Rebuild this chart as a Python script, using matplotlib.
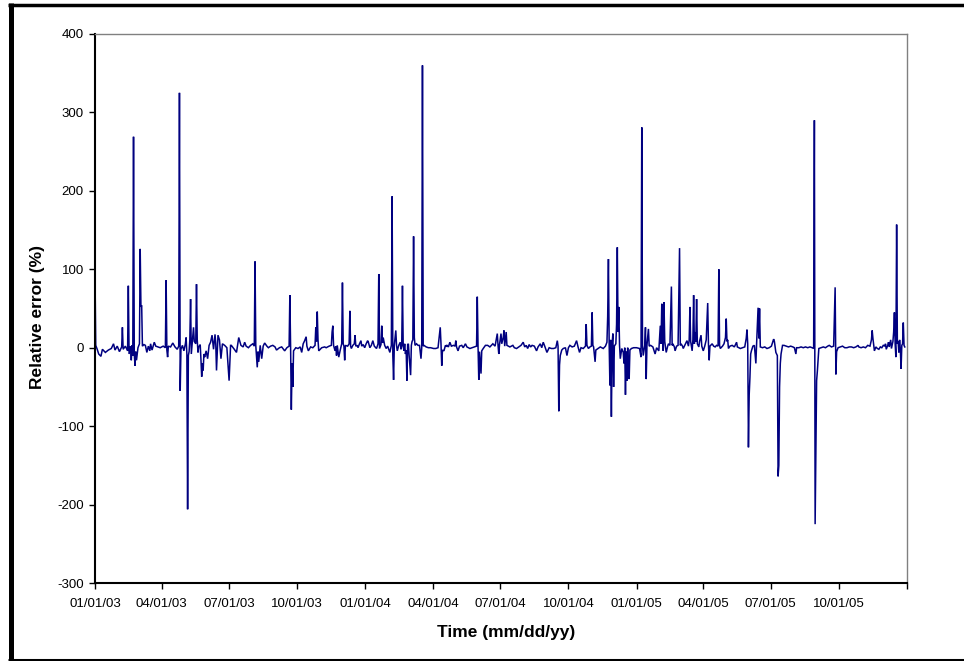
import matplotlib
matplotlib.use('Agg')
import matplotlib.pyplot as plt
import numpy as np
import pandas as pd
from matplotlib.lines import Line2D

plt.rcParams['font.family'] = ['Liberation Sans', 'DejaVu Sans']

# (day offset from 01/01/03, relative error %)
pts_2003 = [(0, 94), (1, 3), (3, -2), (5, -8), (8, -11), (10, -2), (14, -6), (18, -3), (22, -1), (25, 5),
            (27, -3), (30, 2), (33, -5), (36, 1), (37, 26), (38, -2), (41, 2), (44, -4), (45, 79), (46, -8),
            (48, 2), (49, -16), (50, 3), (51, -10), (52, 269), (53, -8), (54, -23), (55, -5), (56, -16), (58, 0),
            (60, 5), (61, 126), (62, 52), (63, 54), (64, 2), (66, 4), (68, 3), (70, -6), (72, 2), (74, -4),
            (75, 5), (77, -3), (79, 4), (80, 7), (82, 2), (85, 1), (88, 0), (92, 2), (95, 0), (96, 86),
            (97, -3), (98, -12), (99, 2), (102, 1), (105, 6), (108, 1), (111, -2), (113, 2), (114, 325), (115, -55),
            (116, -2), (118, 3), (120, -4), (122, 5), (123, 13), (124, -8), (125, -206), (126, -10), (127, -5), (128, 10),
            (129, 62), (130, -8), (131, 3), (133, 26), (134, 8), (136, 5), (137, 81), (138, 10), (139, -6), (140, 1),
            (142, 4), (143, -15), (144, -37), (145, -20), (146, -29), (147, -8), (148, -12), (150, -4), (152, -14), (154, 3),
            (156, 7), (158, 16), (160, -2), (162, 17), (163, 5), (164, -29), (166, 16), (168, 10), (170, -14), (172, 5),
            (175, 3), (178, 0), (181, -42), (183, 3), (184, 3), (188, -2), (191, -6), (194, 13), (197, 3), (200, 1),
            (202, 7), (204, 2), (207, 0), (210, 3), (213, 5), (215, 2), (216, 110), (217, 3), (219, -25), (220, -5),
            (221, -18), (223, 3), (225, -14), (227, 2), (229, 6), (232, 2), (234, 0), (237, 2), (240, 3), (243, 1),
            (245, -3), (249, 0), (252, 1), (256, -4), (259, 0), (262, 2), (263, 67), (264, 2), (265, -79), (266, -20),
            (267, -50), (268, -4), (271, 0), (274, -1), (277, 1), (279, -6), (281, 5), (283, 9), (285, 14), (286, 2),
            (288, -4), (291, 1), (294, 0), (297, 3), (298, 26), (299, 8), (300, 46), (301, 10), (302, -4), (306, 0),
            (310, 1), (312, 0), (316, 2), (319, 3), (320, 20), (321, 28), (322, 3), (324, -4), (325, 2), (326, -10),
            (327, 3), (329, -12), (331, -3), (333, 5), (334, 83), (335, 5), (336, 2), (337, -16), (338, 3), (341, 2),
            (343, 5), (344, 47), (345, 2), (346, -1), (348, 3), (350, 5), (351, 16), (352, 2), (354, 3), (355, 0),
            (357, 5), (359, 9), (360, 2), (362, 4), (364, 0)]

pts_2004 = [(366, 5), (368, 9), (369, 7), (371, 0), (373, 3), (375, 9), (377, 2), (380, -1), (382, 5), (383, 94),
            (384, -1), (386, 4), (387, 28), (388, 6), (389, 13), (391, 3), (393, -1), (395, 2), (398, -6), (400, 3),
            (401, 193), (402, -10), (403, -41), (404, 3), (406, 22), (407, 3), (408, -4), (410, 3), (412, 7), (413, -2),
            (414, 3), (415, 79), (416, 2), (417, -4), (418, 5), (419, -8), (420, -3), (421, -42), (422, 4), (423, 5),
            (424, -10), (426, -35), (427, 3), (428, 8), (429, 10), (430, 142), (431, 13), (432, 3), (434, 5), (436, 3),
            (438, 3), (440, -14), (441, 0), (442, 360), (443, 2), (444, 3), (447, 1), (450, 0), (453, 0), (457, -1),
            (460, -1), (463, 0), (466, 26), (467, 5), (468, -23), (469, -3), (471, -4), (473, 3), (474, 2), (475, 3),
            (477, 1), (479, 7), (481, 2), (484, 3), (486, 2), (487, 9), (488, 1), (490, -4), (492, 2), (495, 3),
            (497, 0), (500, 5), (502, 1), (506, -1), (509, 0), (512, 1), (515, 2), (516, 65), (517, 2), (518, -41),
            (519, -5), (521, -33), (522, -4), (524, -1), (527, 3), (530, 3), (533, 1), (537, 5), (540, 2), (543, 18),
            (544, 3), (545, -8), (546, 4), (548, 18), (549, 5), (551, 13), (552, 22), (553, 2), (555, 20), (556, 3),
            (558, 2), (560, 1), (564, 3), (566, 0), (569, -1), (572, 1), (575, 3), (578, 7), (580, 1), (582, 3),
            (584, -1), (586, 4), (588, 1), (590, 3), (593, 2), (596, -4), (598, 1), (601, 5), (603, 0), (605, 7),
            (607, 2), (610, -6), (613, 0), (616, -1), (619, -1), (622, 0), (624, 9), (625, 2), (626, -81), (627, -22),
            (628, -10), (630, -3), (632, -1), (635, 0), (637, -10), (639, 0), (641, 3), (644, 1), (647, 2), (650, 9),
            (652, 1), (654, -6), (656, 0), (659, -1), (662, 2), (663, 30), (664, 3), (666, -1), (668, 1), (670, 2),
            (671, 45), (672, 3), (673, 1), (675, -18), (676, -3), (679, -1), (682, 1), (686, -1), (689, 2), (691, 7),
            (692, 40), (693, 113), (694, 5), (695, -48), (696, 10), (697, -88), (698, 5), (699, 18), (700, -50), (701, 2),
            (703, 5), (704, 30), (705, 128), (706, 20), (707, 52), (708, 3), (709, -14), (711, -1), (713, -6), (714, -20),
            (715, 0), (716, -60), (717, -5), (718, -42), (719, 0), (720, -30), (721, -40), (722, -3), (724, -1), (727, 0)]

pts_2005 = [(731, 0), (735, -1), (737, -12), (738, 281), (739, 2), (740, -10), (742, 3), (743, 26), (744, -40), (745, 3),
            (747, 24), (748, 2), (750, 3), (753, 1), (756, -8), (758, 0), (761, -4), (763, 28), (764, 5), (765, 56),
            (766, 10), (767, -4), (768, 58), (769, 8), (771, -6), (773, 2), (774, 5), (776, 3), (778, 78), (779, 3),
            (780, 5), (782, 1), (783, -4), (785, 2), (787, 3), (789, 127), (790, 3), (791, 5), (793, 2), (794, -1),
            (796, 3), (799, 9), (801, 2), (802, 10), (803, 52), (804, 8), (806, -4), (807, 10), (808, 67), (809, 5),
            (810, 20), (811, 8), (812, 62), (813, 5), (815, 1), (816, 8), (818, 16), (819, 2), (821, -4), (823, 2),
            (825, 10), (827, 57), (828, 5), (829, -16), (830, 2), (833, 5), (835, 2), (837, 1), (839, 3), (841, 2),
            (842, 100), (843, 3), (844, -1), (847, 2), (849, 5), (851, 13), (852, 37), (853, 8), (854, 10), (855, -1),
            (857, 2), (860, 3), (863, 1), (866, 7), (867, 1), (871, -1), (874, 0), (877, 1), (879, 12), (880, 23),
            (881, 5), (882, -127), (883, -60), (884, -38), (885, -8), (886, -4), (888, 2), (890, 3), (892, -20), (893, 5),
            (895, 51), (896, 12), (897, 50), (898, 1), (901, 0), (904, 1), (907, -1), (910, 0), (913, 2), (916, 11),
            (917, 8), (919, -6), (921, -10), (922, -164), (923, -150), (924, -50), (925, -20), (926, -8), (928, 3), (930, 3),
            (933, 2), (936, 1), (939, 2), (942, 1), (944, 0), (946, -8), (947, 0), (950, 0), (953, 1), (956, 0),
            (959, 1), (962, 0), (965, 1), (968, 0), (970, -1), (971, 290), (972, -225), (974, -42), (975, -30), (977, -1),
            (980, 0), (983, 1), (986, 0), (989, 2), (991, 3), (994, 1), (997, 2), (999, 77), (1000, -34), (1001, -5),
            (1003, 0), (1006, 1), (1009, 2), (1012, 0), (1015, 0), (1018, 1), (1021, 1), (1024, 0), (1027, 1), (1030, 3),
            (1031, 1), (1034, 0), (1037, 1), (1040, 0), (1043, 3), (1046, 2), (1048, 10), (1049, 22), (1050, 12), (1052, -4),
            (1054, 1), (1056, -1), (1058, -2), (1060, 1), (1062, 0), (1064, 3), (1066, 2), (1067, 5), (1068, -2), (1070, 3),
            (1071, 7), (1072, 1), (1074, 10), (1075, -1), (1077, 8), (1078, 20), (1079, 45), (1080, 5), (1081, -12), (1082, 157),
            (1083, 5), (1084, 8), (1085, -6), (1086, 10), (1087, -2), (1088, -27), (1089, 3), (1090, 5), (1091, 32), (1092, 3),
            (1093, 1)]

x_tick_labels = ['01/01/03', '04/01/03', '07/01/03', '10/01/03', '01/01/04', '04/01/04', '07/01/04',
                 '10/01/04', '01/01/05', '04/01/05', '07/01/05', '10/01/05', '']
y_ticks = [-300, -200, -100, 0, 100, 200, 300, 400]

start = pd.Timestamp('2003-01-01')
end = pd.Timestamp('2006-01-01')

pts = pts_2003 + pts_2004 + pts_2005
days = np.array([p[0] for p in pts])
vals = np.array([p[1] for p in pts], dtype=float)
dates = start + pd.to_timedelta(days, unit='D')

W, H = 964, 661
fig = plt.figure(figsize=(W / 100, H / 100), dpi=100)
ax = fig.add_axes([95 / W, 1 - 583 / H, (907 - 95) / W, (583 - 34) / H])

ax.plot(dates, vals, color='#000080', lw=1.1, solid_joinstyle='miter')

ax.set_xlim(start, end)
ax.set_ylim(-300, 400)
tick_dates = pd.date_range(start, end, freq='QS')
ax.set_xticks(tick_dates)
ax.set_xticklabels(x_tick_labels)
ax.set_yticks(y_ticks)
ax.set_yticklabels([str(t) for t in y_ticks])

ax.tick_params(axis='both', direction='out', length=4, width=1, labelsize=9.5, colors='black')
ax.tick_params(axis='x', pad=7)
ax.tick_params(axis='y', pad=4)

for s in ['left', 'bottom']:
    ax.spines[s].set_color('black')
    ax.spines[s].set_linewidth(1.5)
for s in ['top', 'right']:
    ax.spines[s].set_color('#808080')
    ax.spines[s].set_linewidth(1.0)

fig.text(38 / W, 1 - 317 / H, 'Relative error (%)', rotation=90, ha='center', va='center',
         fontsize=12.5, fontweight='bold')
fig.text(506 / W, 1 - 633 / H, 'Time (mm/dd/yy)', ha='center', va='center',
         fontsize=12.5, fontweight='bold')

# figure frame
fig.add_artist(Line2D([8 / W, 1], [1 - 4.5 / H, 1 - 4.5 / H], color='black', lw=2.5,
                      transform=fig.transFigure, solid_capstyle='butt'))
fig.add_artist(Line2D([10.5 / W, 10.5 / W], [0, 1 - 3 / H], color='black', lw=3.6,
                      transform=fig.transFigure, solid_capstyle='butt'))
fig.add_artist(Line2D([8 / W, 1], [1.5 / H, 1.5 / H], color='black', lw=2.2,
                      transform=fig.transFigure, solid_capstyle='butt'))

fig.savefig('out.png', dpi=100)
